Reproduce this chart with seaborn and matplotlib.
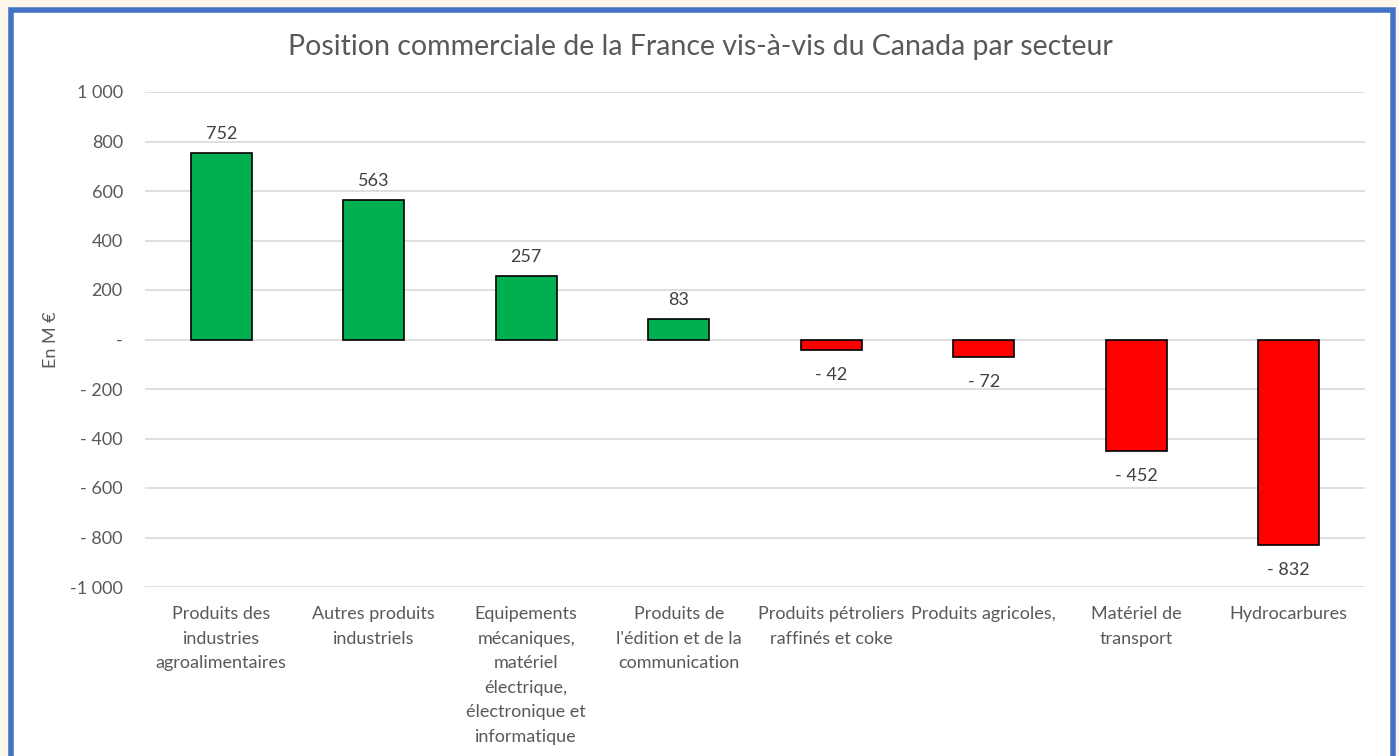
import matplotlib
matplotlib.use("Agg")
import matplotlib.pyplot as plt
import seaborn as sns
import pandas as pd
from matplotlib.patches import Rectangle

categories = [
    "Produits des\nindustries\nagroalimentaires",
    "Autres produits\nindustriels",
    "Equipements\nmécaniques,\nmatériel\nélectrique,\nélectronique et\ninformatique",
    "Produits de\nl'édition et de la\ncommunication",
    "Produits pétroliers\nraffinés et coke",
    "Produits agricoles,",
    "Matériel de\ntransport",
    "Hydrocarbures",
]
values = [752, 563, 257, 83, -42, -72, -452, -832]
value_labels = ["752", "563", "257", "83", "- 42", "- 72", "- 452", "- 832"]
yticks = [1000, 800, 600, 400, 200, 0, -200, -400, -600, -800, -1000]
ytick_labels = ["1 000", "800", "600", "400", "200", "-", "- 200", "- 400", "- 600", "- 800", "-1 000"]
title = "Position commerciale de la France vis-à-vis du Canada par secteur"
ylabel = "En M €"

sns.set_theme(style="white")
plt.rcParams['font.family'] = ['Lato', 'DejaVu Sans']
grey = "#595959"

df = pd.DataFrame({"cat": categories, "val": values,
                   "sign": ["pos" if v >= 0 else "neg" for v in values]})

fig = plt.figure(figsize=(13.99, 7.56), dpi=100)
fig.patch.set_facecolor("#FEF7E9")
# white chart area with blue frame
fig.patches.append(Rectangle((10.5/1399, -0.05), (1382/1399), 1.05 - 10.5/756,
                             transform=fig.transFigure, facecolor="white",
                             edgecolor="#4472C4", linewidth=4, zorder=-5))

ax = fig.add_axes([145/1399, 169/756, 1220/1399, 495/756])
ax.set_zorder(2)
ax.set_facecolor("none")
sns.barplot(data=df, x="cat", y="val", hue="sign",
            palette={"pos": "#00B050", "neg": "#FF0000"}, saturation=1,
            dodge=False, width=0.4, edgecolor="black", linewidth=1.2,
            legend=False, ax=ax, zorder=3)

ax.set_ylim(-1000, 1000)
ax.set_xlim(-0.5, len(categories) - 0.5)
ax.set_yticks(yticks)
ax.set_yticklabels(ytick_labels)
for y in yticks:
    ax.axhline(y, color="#D9D9D9", linewidth=1.2, zorder=1)
for s in ax.spines.values():
    s.set_visible(False)
ax.tick_params(axis="both", length=0, labelsize=13, colors=grey)
ax.tick_params(axis="y", pad=16)
ax.tick_params(axis="x", pad=14)
for lbl in ax.get_xticklabels():
    lbl.set_linespacing(1.65)
ax.set_xlabel("")
ax.set_ylabel(ylabel, fontsize=13, color=grey, labelpad=8)

for i, (v, t) in enumerate(zip(values, value_labels)):
    if v >= 0:
        ax.annotate(t, (i, v), xytext=(0, 8), textcoords="offset points",
                    ha="center", va="bottom", fontsize=13, color="#404040")
    else:
        ax.annotate(t, (i, v), xytext=(0, -12), textcoords="offset points",
                    ha="center", va="top", fontsize=13, color="#404040")

fig.text(700/1399, 1 - 47/756, title, ha="center", va="center",
         fontsize=20.5, color=grey, zorder=3)

fig.savefig("out.png", dpi=100, facecolor=fig.get_facecolor())
